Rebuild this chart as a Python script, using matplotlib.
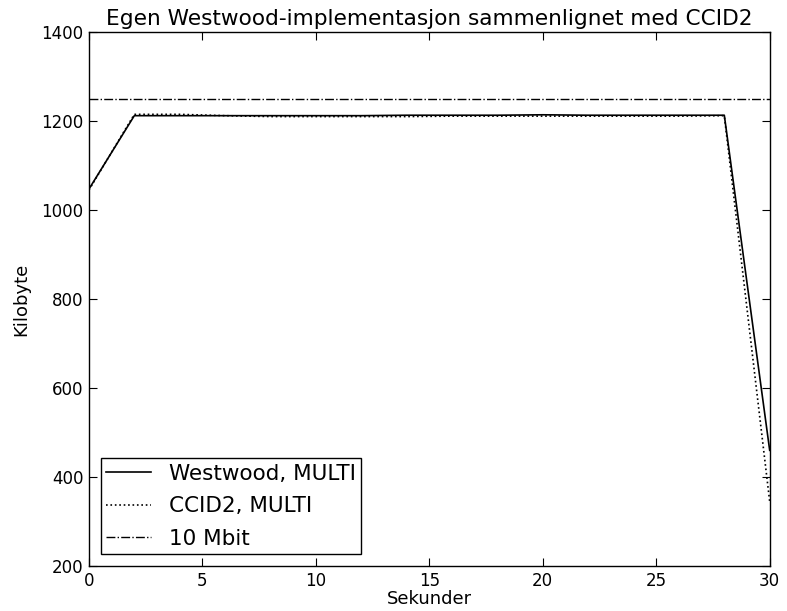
import numpy as np
import matplotlib
matplotlib.use('Agg')
import matplotlib.pyplot as plt

# gjennomstrømning målt annethvert sekund, Westwood mot CCID2
sekunder = np.arange(0, 31, 2)
westwood = [1047, 1212, 1212, 1212, 1212, 1212, 1212, 1213,
            1213, 1213, 1214, 1213, 1213, 1213, 1213, 460]
ccid2 = [1045, 1215, 1215, 1212, 1210, 1210, 1210, 1210,
         1211, 1211, 1211, 1211, 1211, 1211, 1212, 345]
grense = 1250  # 10 Mbit

fig = plt.figure(figsize=(7.87, 6.11), dpi=100)
ax = fig.add_axes([0.113, 0.0736, 0.865, 0.874])

ax.plot(sekunder, westwood, 'k-', lw=1.2, label='Westwood, MULTI')
ax.plot(sekunder, ccid2, 'k:', lw=1.2, label='CCID2, MULTI')
ax.axhline(grense, color='k', ls='-.', lw=1.0, label='10 Mbit')

ax.set_xlim(0, 30)
ax.set_ylim(200, 1400)
ax.set_xticks(range(0, 31, 5))
ax.set_yticks(range(200, 1401, 200))
ax.tick_params(direction='in', top=True, right=True, length=6, labelsize=12, pad=4)
for s in ax.spines.values():
    s.set_linewidth(1.0)

ax.set_title('Egen Westwood-implementasjon sammenlignet med CCID2', fontsize=15.6, pad=5)
ax.set_xlabel('Sekunder', fontsize=13, labelpad=0)
ax.set_ylabel('Kilobyte', fontsize=13, labelpad=8)

leg = ax.legend(loc='lower left', fontsize=15.5, fancybox=False, framealpha=1,
                edgecolor='k', borderaxespad=0.55, handlelength=2.1,
                borderpad=0.25, labelspacing=0.58)
leg.get_frame().set_linewidth(1.0)

fig.savefig('out.png', dpi=100)
